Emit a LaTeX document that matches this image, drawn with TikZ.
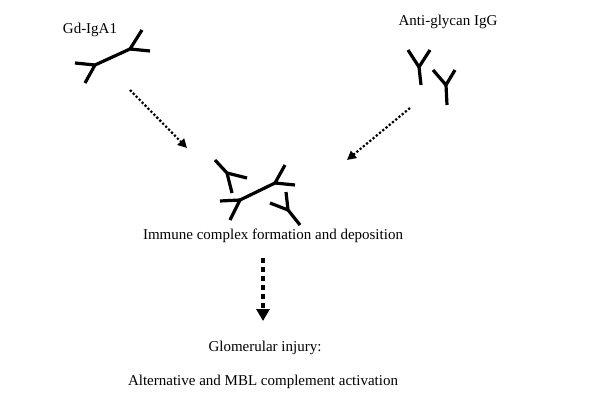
\documentclass[tikz,border=0pt]{standalone}
\usepackage{fontspec}
\setmainfont{Liberation Serif}
\usetikzlibrary{arrows.meta}
\begin{document}
\begin{tikzpicture}[x=1pt,y=-1pt,
  ab/.style={line width=3.2pt},
  dot/.style={line width=2.2pt,dotted,-{Triangle[length=9pt,width=9pt]}},
  lbl/.style={font=\fontsize{15}{18}\selectfont,inner sep=0pt}]
\useasboundingbox (0,0) rectangle (600,415);
% Gd-IgA1
\draw[ab] (75,63)--(95,65)--(85,83); \draw[ab] (95,65)--(130,49);
\draw[ab] (142,30)--(130,49)--(150,51);
% IgG
\draw[ab] (408,50)--(419,67)--(430,50); \draw[ab] (419,67)--(421,85);
\draw[ab] (433,70)--(446,85)--(455,70); \draw[ab] (446,85)--(447,105);
% complex
\draw[ab] (215,160)--(227,173)--(247,178); \draw[ab] (227,173)--(232,193);
\draw[ab] (220,201)--(240,200)--(230,220); \draw[ab] (240,200)--(275,183);
\draw[ab] (285,165)--(275,183)--(295,185);
\draw[ab] (270,203)--(288,210)--(286,192); \draw[ab] (288,210)--(300,225);
% labels
\node[lbl] (g) at (90,30) {Gd-IgA1};
\node[lbl] (a) at (448,22) {Anti-glycan IgG};
\node[lbl] (i) at (273,236) {Immune complex formation and deposition};
\node[lbl] (gl) at (265,348) {Glomerular injury:};
\node[lbl] (al) at (263,382) {Alternative and MBL complement activation};
% arrows
\coordinate (s1) at (130,90); \coordinate (e1) at (187,148);
\coordinate (s2) at (410,108); \coordinate (e2) at (347,160);
\coordinate (s3) at (263,258); \coordinate (e3) at (263,321);
\draw[dot] (s1)--(e1);
\draw[dot] (s2)--(e2);
\draw[line width=4pt,dash pattern=on 5pt off 4pt,-{Triangle[length=12pt,width=13pt]}] (s3)--(e3);
\end{tikzpicture}
\end{document}
